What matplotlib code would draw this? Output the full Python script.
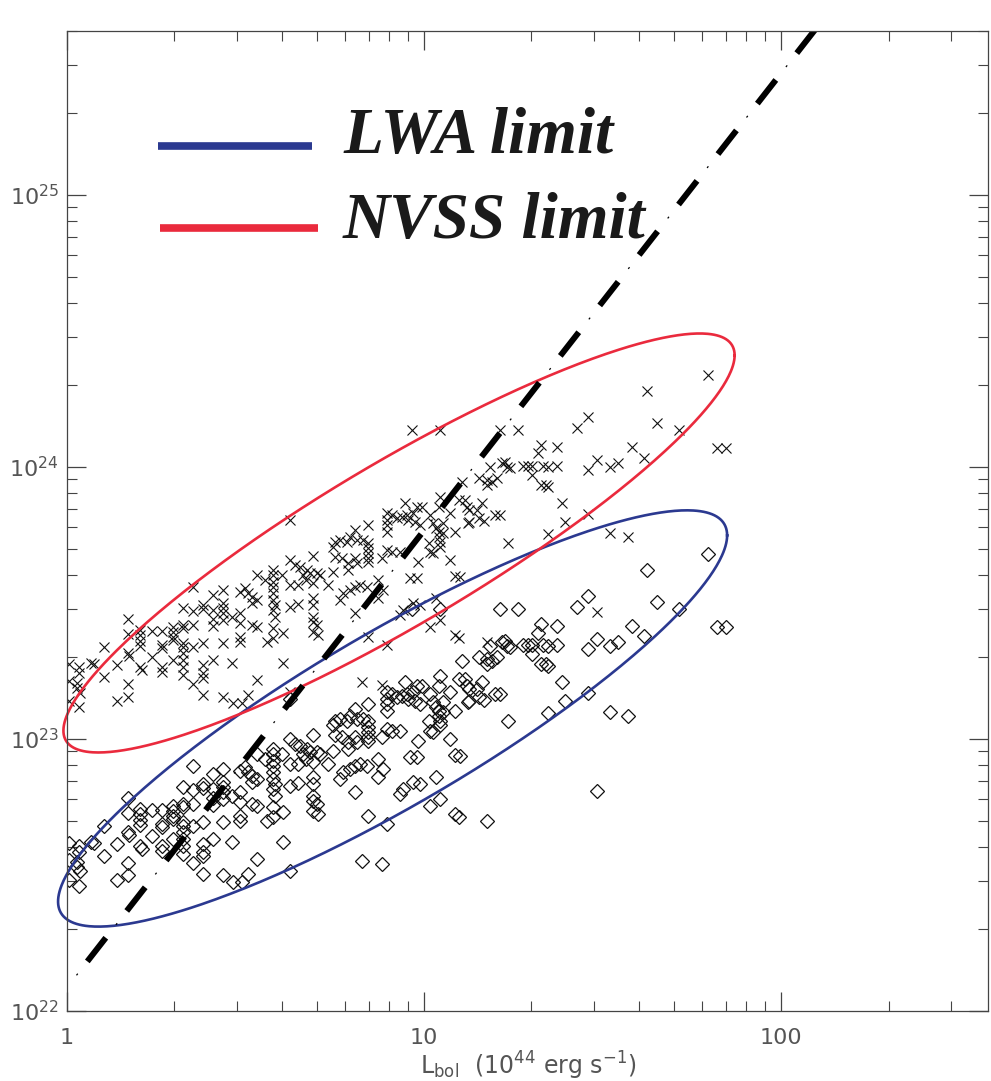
import numpy as np
import matplotlib.pyplot as plt
from matplotlib.lines import Line2D
from matplotlib.ticker import FuncFormatter, NullFormatter

# bolometric luminosity of each source (1e44 erg/s)
lbol = [1.01, 1.01, 1.01, 1.08, 1.08, 1.07, 1.07, 1.09, 1.08, 1.17,
        1.19, 1.27, 1.27, 1.38, 1.38, 1.48, 1.48, 1.48, 1.49, 1.48,
        1.48, 1.60, 1.60, 1.60, 1.60, 1.60, 1.62, 1.73, 1.73, 1.85,
        1.85, 1.85, 1.85, 1.85, 1.98, 1.98, 1.98, 1.98, 1.98, 2.11,
        2.11, 2.11, 2.11, 2.11, 2.11, 2.11, 2.11, 2.11,
        2.25, 2.25, 2.25,
        2.25, 2.25, 2.40, 2.40, 2.40, 2.40, 2.40, 2.40, 2.40,
        2.56, 2.56, 2.56, 2.56, 2.56, 2.73, 2.73, 2.73, 2.73, 2.73,
        2.73, 2.73, 2.90, 2.90, 2.92, 3.05, 3.05, 3.05, 3.05, 3.05,
        3.09, 3.15, 3.21, 3.21, 3.30, 3.30, 3.30, 3.40, 3.40, 3.40,
        3.40, 3.59, 3.63, 3.78, 3.78, 3.78, 3.78, 3.78, 3.78, 3.83,
        3.78, 3.83, 3.78, 3.78, 4.00, 4.03, 4.03, 4.21, 4.21, 4.21,
        4.21, 4.21, 4.35, 4.44, 4.44, 4.50, 4.59, 4.70, 4.79, 4.68,
        4.88, 4.88, 4.88, 4.88, 4.88, 4.88, 4.88, 5.00, 5.00, 5.04,
        5.11,
        5.37, 5.56, 5.63, 5.63, 5.56, 5.82, 5.89, 5.82, 5.93, 6.08,
        6.20, 6.12, 6.12, 6.20, 6.41,
        6.49, 6.41, 6.49, 6.41, 6.41, 6.62, 6.75, 6.71, 6.97, 6.97,
        6.97, 6.97, 6.97, 6.97, 6.93, 6.97, 7.43, 7.43, 7.64, 7.69,
        7.64, 7.88, 7.88, 7.88, 7.88, 7.88, 7.88, 8.14, 8.40, 8.14,
        8.84, 8.56, 8.67, 8.73, 8.56, 8.96, 9.02, 9.31, 9.25, 9.13,
        9.31, 9.43, 9.55, 9.61, 9.55, 9.74, 9.74, 9.87,
        10.3, 10.4, 10.4, 10.6, 10.6, 10.8, 11.0, 11.0, 11.0, 11.1,
        11.1, 11.1, 11.1, 11.3, 11.3, 11.8, 11.8, 12.2, 12.2, 12.2,
        12.5, 12.5, 12.6, 12.8, 13.0, 13.2, 13.3, 13.4, 13.4, 14.1,
        14.3, 14.3, 14.5, 14.7, 15.0, 15.0, 15.3, 15.5, 15.8, 16.0,
        16.3,
        16.3, 16.5,
        16.9, 17.1, 17.2, 17.4, 18.3, 18.9, 19.6, 20.1, 20.1, 20.8,
        21.2, 21.2, 21.6, 21.9, 22.2, 22.3, 22.3,
        23.6, 23.6, 24.4, 24.9, 26.8, 28.8, 28.8, 28.8, 30.6, 30.6,
        33.2, 33.2, 34.9, 37.3, 38.3, 41.4, 42.2, 45.0, 51.9, 62.6,
        66.2, 69.9, 11.1, 10.4, 10.8, 15.0]

# NVSS-limit radio power (1e23), crosses
nvss_p = [1.89, 1.63, 1.38, 1.84, 1.75, 1.61, 1.54, 1.48, 1.31, 1.90,
          1.89, 2.18, 1.69, 1.87, 1.38, 2.76, 2.43, 2.07, 2.02, 1.59,
          1.43, 2.51, 2.41, 2.29, 2.20, 1.84, 1.79, 2.49, 2.00, 2.49,
          2.21, 2.16, 1.84, 1.76, 2.58, 2.47, 2.37, 2.31, 1.95, 3.03,
          2.62, 2.56, 2.25, 2.18, 2.07, 1.95, 1.84, 1.72,
          3.62, 2.95, 2.62,
          2.18, 1.59, 3.11, 3.00, 2.25, 1.87, 1.75, 1.68, 1.45,
          3.38, 2.98, 2.76, 2.60, 1.95, 3.53, 3.16, 3.03, 2.90, 2.74,
          2.25, 1.43, 2.81, 1.90, 1.36, 3.47, 2.90, 2.67, 2.37, 2.27,
          1.36, 3.59, 3.44, 1.45, 3.32, 3.16, 2.62, 4.00, 3.24, 2.58,
          1.65, 3.84, 2.27, 4.18, 4.00, 3.77, 3.62, 3.44, 3.24, 3.11,
          2.98, 2.81, 2.56, 2.35, 4.00, 2.45, 1.90, 6.37, 4.54, 3.68,
          3.05, 1.49, 4.35, 3.68, 3.13, 4.28, 4.00, 4.18, 4.07, 3.84,
          4.70, 3.74, 3.30, 3.11, 2.81, 2.69, 2.47, 4.07, 2.62, 2.41,
          4.00,
          3.68, 5.07, 5.29, 4.66, 4.10, 5.38, 4.62, 3.24, 3.44, 5.29,
          5.52, 4.43, 4.18, 3.53, 5.86,
          5.38, 4.62, 4.43, 3.62, 2.90, 3.68, 5.38, 1.62, 6.11, 5.25,
          5.03, 4.82, 4.62, 4.47, 3.62, 2.37, 3.84, 3.30, 4.62, 3.53,
          1.58, 6.76, 6.37, 6.11, 5.76, 4.94, 2.21, 6.65, 6.48, 4.86,
          7.36, 4.86, 6.53, 2.98, 2.85, 6.65, 6.37, 6.76, 13.6, 3.90,
          3.16, 6.27, 7.11, 4.47, 3.90, 6.11, 3.11, 7.11,
          5.25, 4.86, 6.65, 6.21, 4.82, 5.96, 7.11, 5.76, 5.52, 13.6,
          7.74, 5.29, 5.07, 5.71, 6.21, 6.76, 4.54, 5.76, 3.97, 2.41,
          2.35, 7.55, 3.94, 8.79, 7.55, 7.11, 6.21, 6.93, 6.27, 6.93,
          9.09, 6.48, 7.36, 6.32, 8.93, 8.57, 9.98, 8.79, 6.65, 9.09,
          13.6,
          6.65, 10.3,
          10.4, 9.98, 5.25, 9.89, 13.6, 10.1, 10.1, 10.1, 9.33, 11.2,
          12.0, 8.57, 10.1, 8.57, 9.98, 8.42, 5.66,
          11.8, 10.1, 7.36, 6.27, 13.9, 15.2, 9.72, 6.70, 10.6, 2.93,
          9.98, 5.71, 10.3, 5.52, 11.8, 10.8, 19.0, 14.5, 13.6, 21.7,
          11.7, 11.7, 2.74, 2.58, 3.30, 2.27]

# LWA-limit radio power (1e22), diamonds
lwa_p = [4.16, 3.59, 3.04, 4.05, 3.85, 3.54, 3.39, 3.26, 2.88, 4.18,
         4.16, 4.80, 3.72, 4.11, 3.04, 6.07, 5.35, 4.55, 4.44, 3.50,
         3.15, 5.52, 5.30, 5.04, 4.84, 4.05, 3.94, 5.48, 4.40, 5.48,
         4.86, 4.75, 4.05, 3.87, 5.68, 5.43, 5.21, 5.08, 4.29, 6.67,
         5.76, 5.63, 4.95, 4.80, 4.55, 4.29, 4.05, 3.78,
         7.96, 6.49, 5.76,
         4.80, 3.50, 6.84, 6.60, 4.95, 4.11, 3.85, 3.70, 3.19,
         7.44, 6.56, 6.07, 5.72, 4.29, 7.77, 6.95, 6.67, 6.38, 6.03,
         4.95, 3.15, 6.18, 4.18, 2.99, 7.63, 6.38, 5.87, 5.21, 4.99,
         2.99, 7.90, 7.57, 3.19, 7.30, 6.95, 5.76, 8.80, 7.13, 5.68,
         3.63, 8.45, 4.99, 9.20, 8.80, 8.29, 7.96, 7.57, 7.13, 6.84,
         6.56, 6.18, 5.63, 5.17, 8.80, 5.39, 4.18, 14.0, 9.99, 8.10,
         6.71, 3.28, 9.57, 8.10, 6.89, 9.42, 8.80, 9.20, 8.95, 8.45,
         10.3, 8.23, 7.26, 6.84, 6.18, 5.92, 5.43, 8.95, 5.76, 5.30,
         8.80,
         8.10, 11.2, 11.6, 10.3, 9.02, 11.8, 10.2, 7.13, 7.57, 11.6,
         12.1, 9.75, 9.20, 7.77, 12.9,
         11.8, 10.2, 9.75, 7.96, 6.38, 8.10, 11.8, 3.56, 13.4, 11.6,
         11.1, 10.6, 10.2, 9.83, 7.96, 5.21, 8.45, 7.26, 10.2, 7.77,
         3.48, 14.9, 14.0, 13.4, 12.7, 10.9, 4.86, 14.6, 14.3, 10.7,
         16.2, 10.7, 14.4, 6.56, 6.27, 14.6, 14.0, 14.9, 29.9, 8.58,
         6.95, 13.8, 15.6, 9.83, 8.58, 13.4, 6.84, 15.6,
         11.6, 10.7, 14.6, 13.7, 10.6, 13.1, 15.6, 12.7, 12.1, 29.9,
         17.0, 11.6, 11.2, 12.6, 13.7, 14.9, 9.99, 12.7, 8.73, 5.30,
         5.17, 16.6, 8.67, 19.3, 16.6, 15.6, 13.7, 15.2, 13.8, 15.2,
         20.0, 14.3, 16.2, 13.9, 19.6, 18.9, 22.0, 19.3, 14.6, 20.0,
         29.9,
         14.6, 22.7,
         22.9, 22.0, 11.6, 21.8, 29.9, 22.2, 22.2, 22.2, 20.5, 24.6,
         26.4, 18.9, 22.2, 18.9, 22.0, 18.5, 12.5,
         26.0, 22.2, 16.2, 13.8, 30.6, 33.4, 21.4, 14.7, 23.3, 6.45,
         22.0, 12.6, 22.7, 12.1, 26.0, 23.8, 41.8, 31.9, 29.9, 47.7,
         25.7, 25.7, 6.03, 5.68, 7.26, 4.99]

# limit ellipses in log space: centre logL, centre logP, half-widths, tilt phase (deg)
lwa_ell = (0.912, 23.075, 0.937, 0.765, 28.4)
nvss_ell = (0.93, 23.72, 0.94, 0.77, 26.4)

# dashed relation P = norm * L^slope
rel_norm = 1.22e22
rel_slope = 1.68

blue = '#2b3990'
red = '#ea2a3d'

plt.rcParams['lines.scale_dashes'] = False
fig = plt.figure(figsize=(9.91, 10.81), dpi=100)
ax = fig.add_axes([0.0676, 0.0648, 0.9294, 0.9066])
ax.set_xscale('log')
ax.set_yscale('log')

L = np.array(lbol)
ax.plot(L, np.array(nvss_p) * 1e23, 'x', color='#111', ms=7.2, mew=0.8)
ax.plot(L, np.array(lwa_p) * 1e22, 'D', mfc='none', mec='#111', ms=7.6, mew=0.9)

t = np.linspace(0, 2 * np.pi, 500)
for (cx, cy, a, b, ph), col in [(lwa_ell, blue), (nvss_ell, red)]:
    lx = cx + a * np.cos(t)
    ly = cy + b * np.cos(t - np.radians(ph))
    ax.plot(10 ** lx, 10 ** ly, color=col, lw=1.9, clip_on=False)

lx = np.array([1.0, 130.0])
ly = rel_norm * lx ** rel_slope
ax.plot(lx, ly, color='k', lw=0.9, linestyle=(35.0, (1.5, 44.6)))
ax.plot(lx, ly, color='k', lw=4.3, linestyle=(22.3, (21.6, 24.5)),
        dash_capstyle='butt')

ax.set_xlim(1, 380)
ax.set_ylim(1e22, 4e25)

for s in ax.spines.values():
    s.set_color('#444')
    s.set_linewidth(0.9)
ax.tick_params(which='both', direction='in', top=True, right=True,
               color='#444', labelcolor='#555', labelsize=16)
ax.tick_params(which='major', length=13.5, width=0.9)
ax.tick_params(which='minor', length=7, width=0.8)
ax.tick_params(axis='x', pad=12)
ax.tick_params(axis='y', pad=6)
ax.xaxis.set_major_formatter(FuncFormatter(lambda v, p: f'{v:g}'))
ax.xaxis.set_minor_formatter(NullFormatter())
ax.yaxis.set_minor_formatter(NullFormatter())

fig.text(0.533, 0.006, r'L$_{\rm bol}$  (10$^{44}$ erg s$^{-1}$)',
         color='#555', fontsize=17, ha='center', va='baseline')

# key: coloured bars with big serif labels
key_font = {'family': 'Liberation Serif', 'weight': 'bold',
            'style': 'italic', 'size': 47}
for (x0, x1, ly_, ty), col, lab in [((0.1594, 0.3148, 0.8649, 0.8585), blue, 'LWA limit'),
                                    ((0.1615, 0.3209, 0.7891, 0.7798), red, 'NVSS limit')]:
    fig.add_artist(Line2D([x0, x1], [ly_, ly_], color=col, lw=5.5,
                          solid_capstyle='butt', transform=fig.transFigure))
    fig.text(0.3461, ty, lab, color='#1a1a1a', ha='left', va='baseline',
             fontdict=key_font)

plt.savefig('out.png', dpi=100)
